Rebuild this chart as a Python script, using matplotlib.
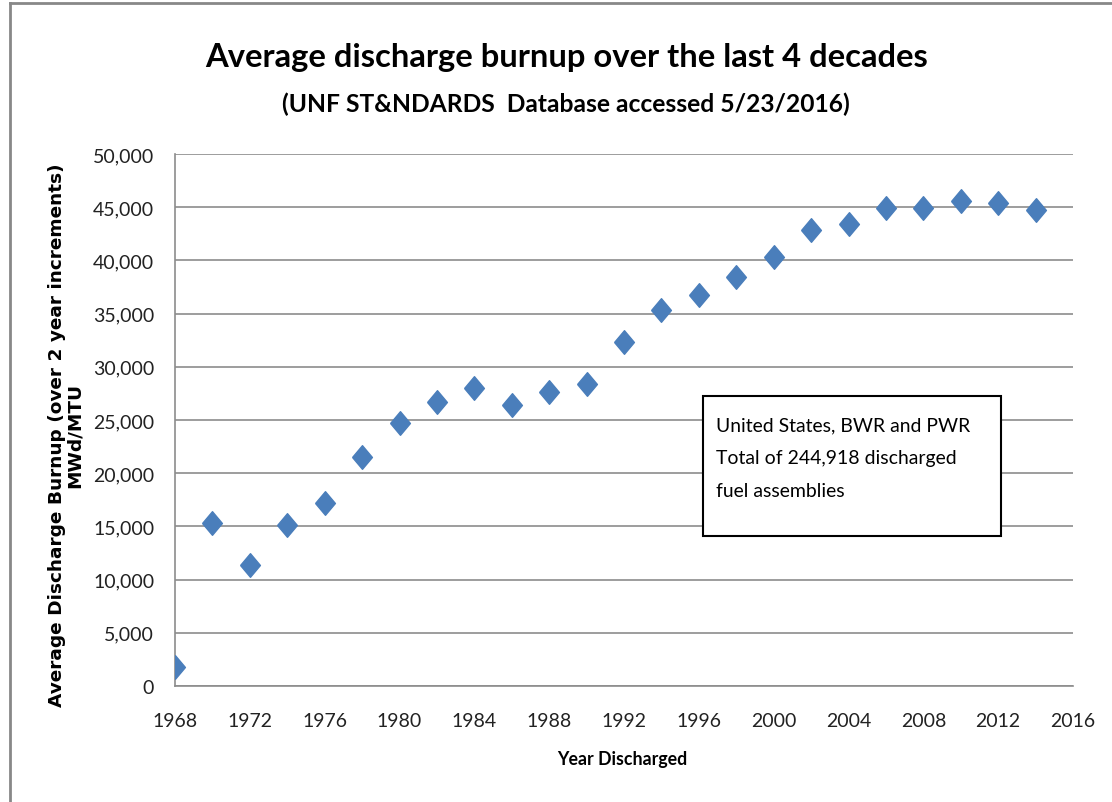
import matplotlib
matplotlib.use("Agg")
import matplotlib.pyplot as plt
from matplotlib.lines import Line2D
from matplotlib.ticker import FuncFormatter, MultipleLocator

# data (2 year bins)
years = [1968, 1970, 1972, 1974, 1976, 1978, 1980, 1982, 1984, 1986, 1988, 1990,
         1992, 1994, 1996, 1998, 2000, 2002, 2004, 2006, 2008, 2010, 2012, 2014]
burnup = [1750, 15300, 11330, 15100, 17220, 21490, 24680, 26730, 27980, 26400, 27640, 28350,
          32350, 35340, 36720, 38470, 40320, 42840, 43410, 44920, 44920, 45560, 45360, 44690]
x_ticks = list(range(1968, 2017, 4))

title = "Average discharge burnup over the last 4 decades"
subtitle = "(UNF ST&NDARDS  Database accessed 5/23/2016)"
note = "United States, BWR and PWR\nTotal of 244,918 discharged\nfuel assemblies"

plt.rcParams["font.family"] = ["Lato", "DejaVu Sans"]

W, H = 1112, 803
fig = plt.figure(figsize=(W / 100, H / 100), dpi=100)
ax = fig.add_axes([175 / W, 1 - 687 / H, 898 / W, 532 / H])


def px(x, y):
    # pixel (from top-left) -> figure fraction
    return x / W, 1 - y / H


# excel-like diamond, a bit taller than wide
diamond = [(-0.42, 0), (0, 0.5), (0.42, 0), (0, -0.5), (-0.42, 0)]
ax.plot(years, burnup, linestyle="none", marker=diamond, markersize=17,
        color="#4A7EBB", markeredgecolor="#4A7EBB", zorder=4)

ax.set_xlim(1968, 2016)
ax.set_ylim(0, 50000)
ax.set_xticks(x_ticks)
ax.yaxis.set_major_locator(MultipleLocator(5000))
ax.yaxis.set_major_formatter(FuncFormatter(lambda v, p: f"{int(v):,}"))
ax.tick_params(length=0, labelsize=14, colors="#222222")
ax.tick_params(axis="x", pad=19)
ax.tick_params(axis="y", pad=15)

ax.grid(axis="y", color="#8c8c8c", linewidth=1.2)
ax.set_axisbelow(True)
for s in ["top", "right"]:
    ax.spines[s].set_visible(False)
for s in ["left", "bottom"]:
    ax.spines[s].set_color("#8c8c8c")
    ax.spines[s].set_linewidth(1.2)

# note box
ax.add_patch(plt.Rectangle(((703 - 175) / 898, (687 - 537) / 532), 298 / 898, 140 / 532,
                           transform=ax.transAxes, facecolor="white", edgecolor="black",
                           linewidth=1.5, zorder=3))
t_note = ax.text((716 - 175) / 898, (687 - 417) / 532, note, transform=ax.transAxes,
                 fontsize=15, va="top", ha="left", linespacing=2.15, zorder=5)

t_title = fig.text(*px(567, 58), title, ha="center", va="center", fontsize=28, fontweight="bold")
t_sub = fig.text(*px(566, 104), subtitle, ha="center", va="center", fontsize=19, fontweight="bold")
t_xl = fig.text(*px(622, 760), "Year Discharged", ha="center", va="center",
                fontsize=15, fontweight="bold")
t_yl = fig.text(*px(66, 435), "Average Discharge Burnup (over 2 year increments)\nMWd/MTU",
                ha="center", va="center", rotation=90, fontsize=13, fontweight="bold",
                family="DejaVu Sans", multialignment="center", linespacing=1.0)

# scale font sizes so the texts span the same width as in the reference
fig.canvas.draw()
r = fig.canvas.get_renderer()
for t, target, use_h in [(t_title, 725, False), (t_sub, 567, False), (t_xl, 130, False),
                         (t_yl, 540, True), (t_note, 256, False)]:
    bb = t.get_window_extent(r)
    cur = bb.height if use_h else bb.width
    t.set_fontsize(t.get_fontsize() * target / cur)

# outer chart frame (partially cropped in the reference)
fig.add_artist(Line2D([0.009, 0.009], [0, 0.995], transform=fig.transFigure,
                      color="#888888", linewidth=2))
fig.add_artist(Line2D([0.009, 1], [0.995, 0.995], transform=fig.transFigure,
                      color="#888888", linewidth=2))

fig.savefig("out.png", dpi=100)
